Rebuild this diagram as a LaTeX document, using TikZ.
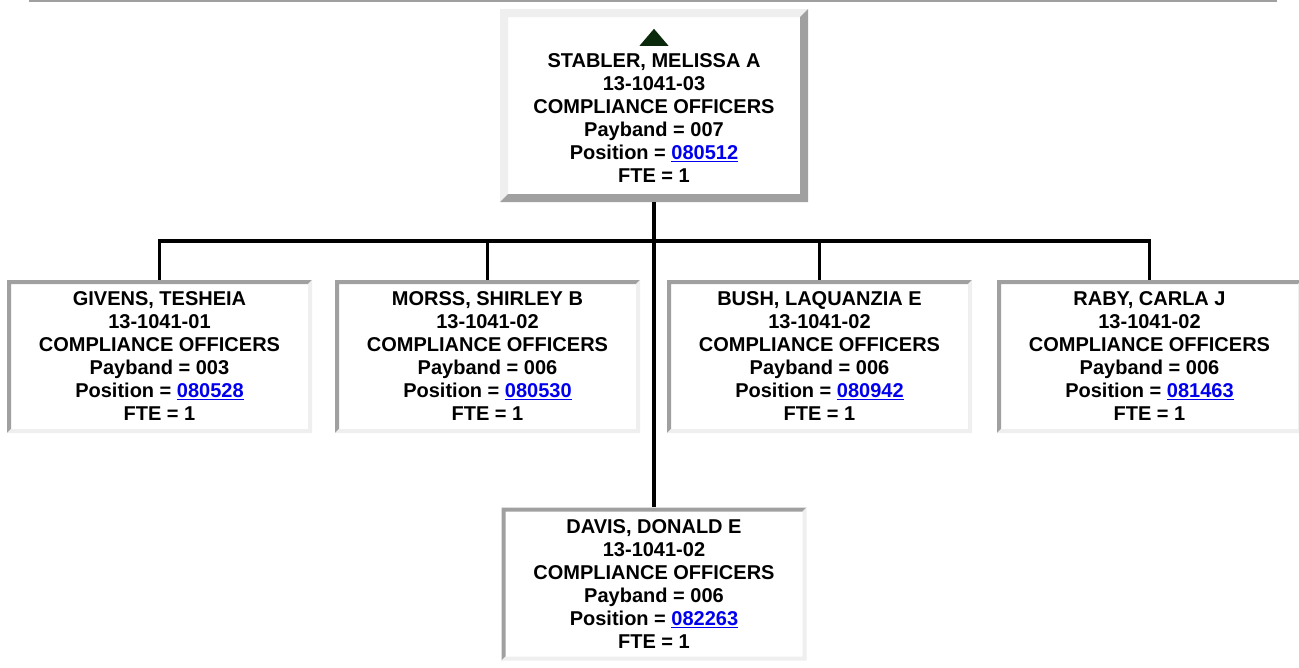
\documentclass[tikz,border=0pt]{standalone}
\usepackage{fontspec}
\setmainfont{Liberation Sans}
\definecolor{Bevdark}{HTML}{A0A0A0}
\definecolor{Bevlite}{HTML}{EFEFEF}
\definecolor{Linkcol}{HTML}{0000EE}
\definecolor{Tricol}{HTML}{0B2A0B}
\usetikzlibrary{positioning}
\newcommand{\poslink}[1]{\textcolor{Linkcol}{\underline{#1}}}
\tikzset{
    x=1pt, y=1pt,
    font=\bfseries\fontsize{20}{23}\selectfont,
    bevel/.style n args={3}{path picture={
        \coordinate (nw) at (path picture bounding box.north west);
        \coordinate (se) at (path picture bounding box.south east);
        \coordinate (ne) at (nw -| se);
        \coordinate (sw) at (nw |- se);
        \fill[#2] (nw) -- (ne) -- ([shift={(-#1,-#1)}]ne) -- ([shift={(#1,-#1)}]nw)
            -- ([shift={(#1,#1)}]sw) -- (sw) -- cycle;
        \fill[#3] (se) -- (sw) -- ([shift={(#1,#1)}]sw) -- ([shift={(-#1,#1)}]se)
            -- ([shift={(-#1,-#1)}]ne) -- (ne) -- cycle;
    }},
    boss/.style={align=center, inner sep=0pt, fill=white, minimum width=308pt, minimum height=193pt, bevel={8}{Bevlite}{Bevdark}},
    staff/.style={align=center, inner sep=0pt, fill=white, minimum width=305pt, minimum height=153pt, bevel={4}{Bevdark}{Bevlite}},
    wire/.style={line width=3.3pt, black}
}

\begin{document}
\begin{tikzpicture}
    \useasboundingbox (0,0) rectangle (1299,-667);

    % Rule across the top
    \draw[Bevdark, line width=2pt] (29,-1) -- (1277,-1);

    % Supervisor
    \node[boss] (stabler) at (654,-105.5) {\strut\\STABLER, MELISSA A\\13-1041-03\\COMPLIANCE OFFICERS\\Payband = 007\\Position = \poslink{080512}\\FTE = 1};
    \fill[Tricol] ([yshift=-20]stabler.north) -- ([shift={(14.5,-37)}]stabler.north) -- ([shift={(-14.5,-37)}]stabler.north) -- cycle;

    % Direct reports
    \node[staff] (givens) at (159.5,-356.5) {GIVENS, TESHEIA\\13-1041-01\\COMPLIANCE OFFICERS\\Payband = 003\\Position = \poslink{080528}\\FTE = 1};
    \node[staff] (morss) at (487.5,-356.5) {MORSS, SHIRLEY B\\13-1041-02\\COMPLIANCE OFFICERS\\Payband = 006\\Position = \poslink{080530}\\FTE = 1};
    \node[staff] (bush) at (819.5,-356.5) {BUSH, LAQUANZIA E\\13-1041-02\\COMPLIANCE OFFICERS\\Payband = 006\\Position = \poslink{080942}\\FTE = 1};
    \node[staff] (raby) at (1149.5,-356.5) {RABY, CARLA J\\13-1041-02\\COMPLIANCE OFFICERS\\Payband = 006\\Position = \poslink{081463}\\FTE = 1};
    \node[staff] (davis) at (654,-584) {DAVIS, DONALD E\\13-1041-02\\COMPLIANCE OFFICERS\\Payband = 006\\Position = \poslink{082263}\\FTE = 1};

    % Connectors
    \coordinate (bar) at (654,-241);
    \draw[wire] (stabler.south) -- (davis.north);
    \draw[wire] (givens.north) |- (bar) -| (raby.north);
    \draw[wire] (morss.north) -- (morss.north |- bar);
    \draw[wire] (bush.north) -- (bush.north |- bar);
\end{tikzpicture}
\end{document}
